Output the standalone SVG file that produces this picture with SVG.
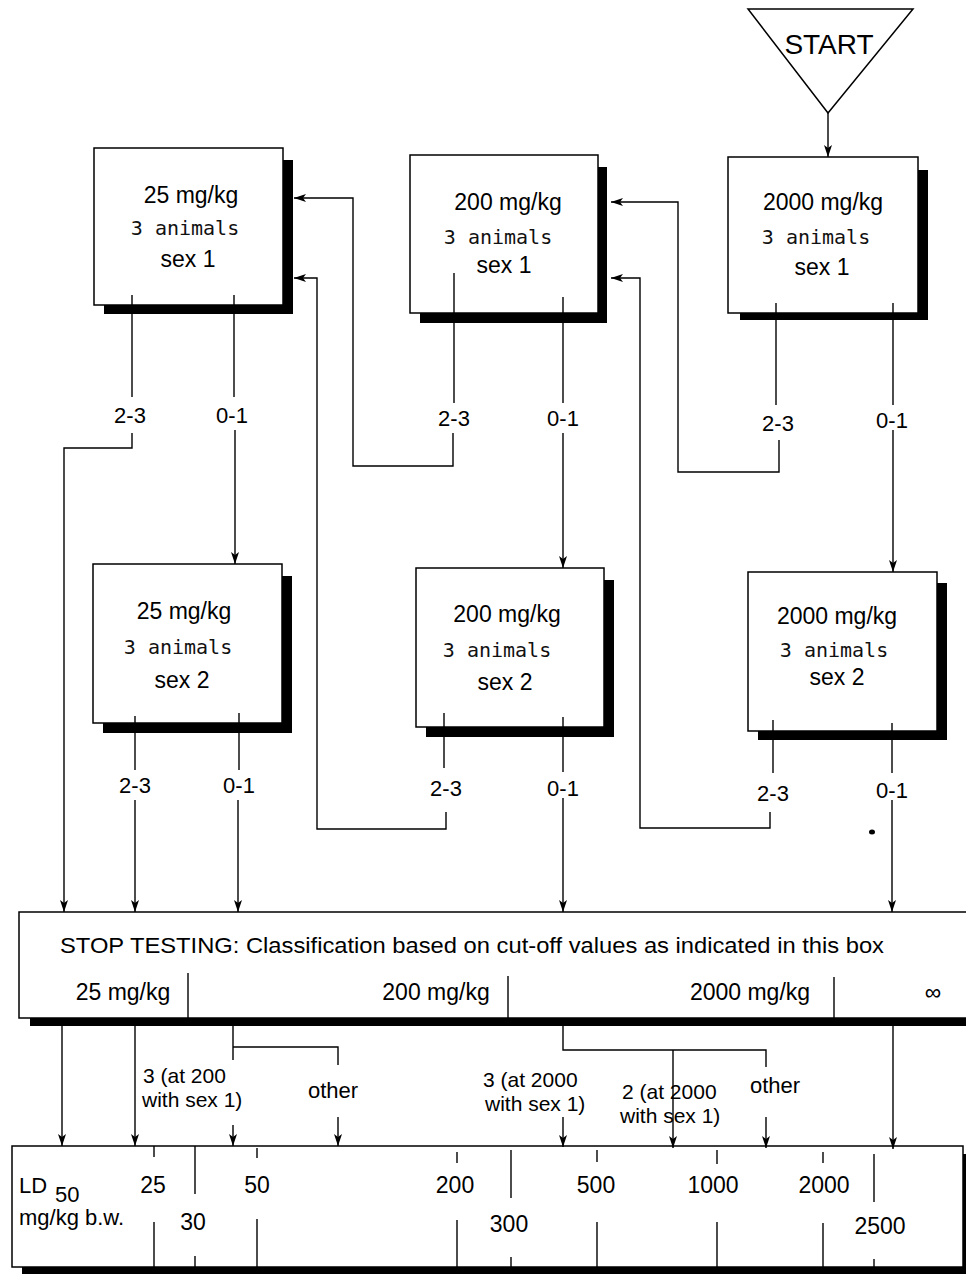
<svg xmlns="http://www.w3.org/2000/svg" width="966" height="1274" viewBox="0 0 966 1274">
  <style>
    .box { fill: #fff; stroke: #000; stroke-width: 1.5; }
    .shadow { fill: #000; }
    .dose { font-family: "Liberation Sans", Arial, sans-serif; font-size: 23px; text-anchor: middle; fill: #000; }
    .mono { font-family: "DejaVu Sans Mono", "Liberation Mono", monospace; font-size: 20px; text-anchor: middle; fill: #111; }
    .lbl { font-family: "Liberation Sans", Arial, sans-serif; font-size: 22px; text-anchor: middle; fill: #000; }
    .txt { font-family: "Liberation Sans", Arial, sans-serif; font-size: 22px; fill: #000; }
    .note { font-family: "Liberation Sans", Arial, sans-serif; font-size: 21px; fill: #000; }
    .tick { stroke: #000; stroke-width: 1.4; fill: none; }
    .wire { stroke: #000; stroke-width: 1.4; fill: none; }
    .arrow { stroke: #000; stroke-width: 1.4; fill: none; marker-end: url(#head); }
  </style>
  <defs>
    <marker id="head" viewBox="0 0 12 8" refX="12" refY="4" markerWidth="12" markerHeight="8" markerUnits="userSpaceOnUse" orient="auto">
      <path d="M0,0 L12,4 L0,8 L3,4 z" fill="#000"/>
    </marker>
  </defs>

  <rect width="966" height="1274" fill="#fff"/>

  <!-- start marker -->
  <g id="start">
    <polygon points="748,9 913,9 828,113" fill="#fff" stroke="#000" stroke-width="1.5"/>
    <text x="829" y="54" font-family="'Liberation Sans', Arial, sans-serif" font-size="28" text-anchor="middle">START</text>
  </g>

  <!-- sex 1 row -->
  <g id="dose25-sex1">
    <rect class="shadow" x="104" y="160" width="189" height="154"/>
    <rect class="box" x="94" y="148" width="189" height="157"/>
    <text class="dose" x="191" y="203">25 mg/kg</text>
    <text class="mono" x="185" y="235">3 animals</text>
    <text class="dose" x="188" y="267">sex 1</text>
  </g>
  <g id="dose200-sex1">
    <rect class="shadow" x="420" y="167" width="187" height="156"/>
    <rect class="box" x="410" y="155" width="188" height="158"/>
    <text class="dose" x="508" y="210">200 mg/kg</text>
    <text class="mono" x="498" y="244">3 animals</text>
    <text class="dose" x="504" y="273">sex 1</text>
  </g>
  <g id="dose2000-sex1">
    <rect class="shadow" x="740" y="170" width="188" height="150"/>
    <rect class="box" x="728" y="157" width="190" height="156"/>
    <text class="dose" x="823" y="210">2000 mg/kg</text>
    <text class="mono" x="816" y="244">3 animals</text>
    <text class="dose" x="822" y="275">sex 1</text>
  </g>

  <!-- sex 2 row -->
  <g id="dose25-sex2">
    <rect class="shadow" x="103" y="576" width="189" height="157"/>
    <rect class="box" x="93" y="564" width="189" height="159"/>
    <text class="dose" x="184" y="619">25 mg/kg</text>
    <text class="mono" x="178" y="654">3 animals</text>
    <text class="dose" x="182" y="688">sex 2</text>
  </g>
  <g id="dose200-sex2">
    <rect class="shadow" x="426" y="580" width="188" height="157"/>
    <rect class="box" x="416" y="568" width="188" height="159"/>
    <text class="dose" x="507" y="622">200 mg/kg</text>
    <text class="mono" x="497" y="657">3 animals</text>
    <text class="dose" x="505" y="690">sex 2</text>
  </g>
  <g id="dose2000-sex2">
    <rect class="shadow" x="758" y="583" width="189" height="157"/>
    <rect class="box" x="748" y="572" width="189" height="159"/>
    <text class="dose" x="837" y="624">2000 mg/kg</text>
    <text class="mono" x="834" y="657">3 animals</text>
    <text class="dose" x="837" y="685">sex 2</text>
  </g>

  <!-- stop-testing box with cut-off values -->
  <g id="stop">
    <rect class="shadow" x="30" y="920" width="950" height="106"/>
    <rect class="box" x="19" y="912" width="960" height="106"/>
    <text class="txt" x="60" y="953" font-size="23" textLength="824" lengthAdjust="spacingAndGlyphs">STOP TESTING:  Classification based on cut-off values as indicated in this box</text>
    <text class="dose" x="123" y="1000">25 mg/kg</text>
    <text class="dose" x="436" y="1000">200 mg/kg</text>
    <text class="dose" x="750" y="1000">2000 mg/kg</text>
    <text class="dose" x="933" y="1000">∞</text>
    <line class="tick" x1="188" y1="973" x2="188" y2="1018"/>
    <line class="tick" x1="508" y1="976" x2="508" y2="1018"/>
    <line class="tick" x1="834" y1="977" x2="834" y2="1018"/>
  </g>

  <!-- LD50 scale -->
  <g id="ld50">
    <rect class="shadow" x="22" y="1154" width="950" height="120"/>
    <rect class="box" x="12" y="1146" width="951" height="121"/>
    <text class="txt" x="19" y="1193" font-size="21">LD</text>
    <text class="txt" x="55" y="1202" font-size="21">50</text>
    <text class="txt" x="19" y="1225" font-size="22">mg/kg b.w.</text>
    <g class="tick">
      <line x1="154" y1="1146" x2="154" y2="1157"/><line x1="154" y1="1222" x2="154" y2="1267"/>
      <line x1="195" y1="1146" x2="195" y2="1194"/><line x1="195" y1="1256" x2="195" y2="1267"/>
      <line x1="257" y1="1148" x2="257" y2="1158"/><line x1="257" y1="1219" x2="257" y2="1267"/>
      <line x1="457" y1="1152" x2="457" y2="1163"/><line x1="457" y1="1220" x2="457" y2="1267"/>
      <line x1="511" y1="1150" x2="511" y2="1198"/><line x1="511" y1="1257" x2="511" y2="1267"/>
      <line x1="597" y1="1150" x2="597" y2="1162"/><line x1="597" y1="1222" x2="597" y2="1267"/>
      <line x1="717" y1="1150" x2="717" y2="1164"/><line x1="717" y1="1222" x2="717" y2="1267"/>
      <line x1="823" y1="1152" x2="823" y2="1163"/><line x1="823" y1="1223" x2="823" y2="1267"/>
      <line x1="874" y1="1154" x2="874" y2="1202"/><line x1="874" y1="1259" x2="874" y2="1267"/>
    </g>
    <text class="dose" x="153" y="1193">25</text>
    <text class="dose" x="193" y="1230">30</text>
    <text class="dose" x="257" y="1193">50</text>
    <text class="dose" x="455" y="1193">200</text>
    <text class="dose" x="509" y="1232">300</text>
    <text class="dose" x="596" y="1193">500</text>
    <text class="dose" x="713" y="1193">1000</text>
    <text class="dose" x="824" y="1193">2000</text>
    <text class="dose" x="880" y="1234">2500</text>
  </g>

  <!-- connectors -->
  <g id="connectors">
    <line class="arrow" x1="828" y1="113" x2="828" y2="157"/>

    <!-- from 2000 mg/kg, sex 1 -->
    <line class="tick" x1="776" y1="303" x2="776" y2="405"/>
    <text class="lbl" x="778" y="431">2-3</text>
    <path class="arrow" d="M779,440 V472 H678 V202 H611"/>
    <line class="tick" x1="893" y1="303" x2="893" y2="405"/>
    <text class="lbl" x="892" y="428">0-1</text>
    <line class="arrow" x1="893" y1="430" x2="893" y2="572"/>

    <!-- from 200 mg/kg, sex 1 -->
    <line class="tick" x1="454" y1="273" x2="454" y2="403"/>
    <text class="lbl" x="454" y="426">2-3</text>
    <path class="arrow" d="M453,433 V466 H353 V198 H294"/>
    <line class="tick" x1="563" y1="297" x2="563" y2="403"/>
    <text class="lbl" x="563" y="426">0-1</text>
    <line class="arrow" x1="563" y1="433" x2="563" y2="568"/>

    <!-- from 25 mg/kg, sex 1 -->
    <line class="tick" x1="132" y1="295" x2="132" y2="397"/>
    <text class="lbl" x="130" y="423">2-3</text>
    <path class="arrow" d="M132,433 V448 H64 V912"/>
    <line class="tick" x1="234" y1="295" x2="234" y2="397"/>
    <text class="lbl" x="232" y="423">0-1</text>
    <line class="arrow" x1="235" y1="430" x2="235" y2="564"/>

    <!-- from 25 mg/kg, sex 2 -->
    <line class="tick" x1="135" y1="716" x2="135" y2="770"/>
    <text class="lbl" x="135" y="793">2-3</text>
    <line class="arrow" x1="135" y1="800" x2="135" y2="912"/>
    <line class="tick" x1="239" y1="713" x2="239" y2="770"/>
    <text class="lbl" x="239" y="793">0-1</text>
    <line class="arrow" x1="238" y1="800" x2="238" y2="912"/>

    <!-- from 200 mg/kg, sex 2 -->
    <line class="tick" x1="444" y1="713" x2="444" y2="768"/>
    <text class="lbl" x="446" y="796">2-3</text>
    <path class="arrow" d="M446,812 V829 H317 V278 H294"/>
    <line class="tick" x1="563" y1="717" x2="563" y2="772"/>
    <text class="lbl" x="563" y="796">0-1</text>
    <line class="arrow" x1="563" y1="798" x2="563" y2="912"/>

    <!-- from 2000 mg/kg, sex 2 -->
    <line class="tick" x1="773" y1="720" x2="773" y2="773"/>
    <text class="lbl" x="773" y="801">2-3</text>
    <path class="arrow" d="M770,812 V828 H640 V278 H611"/>
    <line class="tick" x1="892" y1="723" x2="892" y2="773"/>
    <text class="lbl" x="892" y="798">0-1</text>
    <line class="arrow" x1="892" y1="800" x2="892" y2="912"/>

    <!-- from the stop box to the LD50 scale -->
    <line class="arrow" x1="62" y1="1026" x2="62" y2="1146"/>
    <line class="arrow" x1="135" y1="1026" x2="135" y2="1146"/>
    <path class="wire" d="M233,1026 V1060 M233,1047 H338 V1065"/>
    <line class="arrow" x1="233" y1="1125" x2="233" y2="1146"/>
    <line class="arrow" x1="338" y1="1117" x2="338" y2="1146"/>
    <path class="wire" d="M563,1026 V1050 H766 V1067"/>
    <line class="arrow" x1="673" y1="1050" x2="673" y2="1148"/>
    <line class="arrow" x1="563" y1="1117" x2="563" y2="1147"/>
    <line class="arrow" x1="766" y1="1117" x2="766" y2="1148"/>
    <line class="arrow" x1="893" y1="1026" x2="893" y2="1149"/>

    <text class="note" x="143" y="1083">3 (at 200</text>
    <text class="note" x="142" y="1107">with sex 1)</text>
    <text class="lbl" x="333" y="1098">other</text>
    <text class="note" x="483" y="1087">3 (at 2000</text>
    <text class="note" x="485" y="1111">with sex 1)</text>
    <text class="note" x="622" y="1099">2 (at 2000</text>
    <text class="note" x="620" y="1123">with sex 1)</text>
    <text class="lbl" x="775" y="1093">other</text>
  </g>

  <!-- ink spot -->
  <ellipse cx="872" cy="832" rx="3" ry="2.5" fill="#000"/>
</svg>
